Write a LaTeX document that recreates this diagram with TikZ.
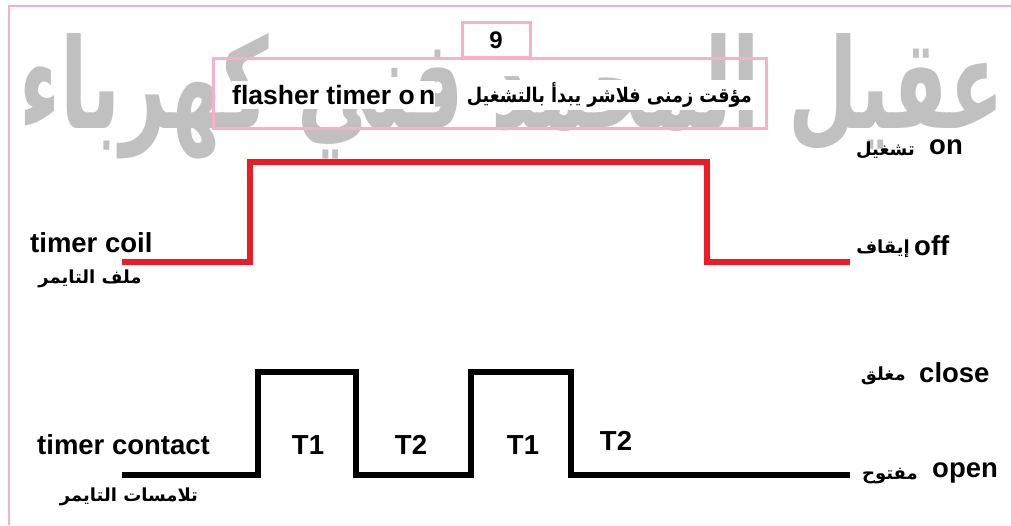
\documentclass[tikz,border=0pt]{standalone}
\usepackage{fontspec}
\setmainfont{Liberation Sans}
\newfontfamily\ar[Script=Arabic]{DejaVu Sans}
\TeXXeTstate=1
\begin{document}
\begin{tikzpicture}[x=1pt,y=-1pt,
  lbl/.style={font=\fontsize{27.5}{29}\selectfont\bfseries, inner sep=0pt},
  arl/.style={font=\ar\fontsize{18}{20}\selectfont\bfseries, inner sep=0pt},
  pinkbox/.style={draw=pinkc, line width=3pt},
  redw/.style={draw=redc, line width=6pt},
  blkw/.style={draw=black, line width=6pt}]
\definecolor{pinkc}{RGB}{248,176,200}
\definecolor{redc}{RGB}{237,28,36}
\definecolor{wmk}{RGB}{192,192,192}
\useasboundingbox (0,0) rectangle (1011,525);
\fill[white] (0,0) rectangle (1011,525);
% outer border
\draw[pinkc, line width=1.5pt] (9,525) -- (9,6) -- (1011,6);
% watermark
\node[inner sep=0pt, text=wmk, anchor=base] (wm) at (512,128) {\resizebox{985pt}{95pt}{\ar\bfseries\beginR عقيل المحمد فني كهرباء\endR}};
% number box & title box
\node[pinkbox, fill=white, minimum width=68pt, minimum height=35pt, inner sep=0pt, font=\fontsize{24}{26}\selectfont\bfseries] (num) at (496,40) {9};
\draw[pinkbox] (213,58) rectangle (766,128);
\node[lbl, fill=white, inner ysep=4pt, anchor=west, font=\fontsize{26.5}{28}\selectfont\bfseries] (t1) at (232,95) {flasher timer o\,n};
\node[fill=white, inner sep=3pt, anchor=east] (t2) at (755,95) {\resizebox{285pt}{20pt}{\ar\bfseries\beginR مؤقت زمنى فلاشر يبدأ بالتشغيل\endR}};
% red waveform
\coordinate (r0) at (122,262);
\coordinate (r1) at (250,262);
\coordinate (r2) at (250,162);
\coordinate (r3) at (707,162);
\coordinate (r4) at (707,262);
\coordinate (r5) at (850,262);
\draw[redw] (r0) -- (r1) -- (r2) -- (r3) -- (r4) -- (r5);
% black waveform
\coordinate (b0) at (122,475);
\coordinate (b1) at (258,475);
\coordinate (b2) at (258,372);
\coordinate (b3) at (356,372);
\coordinate (b4) at (356,475);
\coordinate (b5) at (471,475);
\coordinate (b6) at (471,372);
\coordinate (b7) at (571,372);
\coordinate (b8) at (571,475);
\coordinate (b9) at (850,475);
\draw[blkw] (b0) -- (b1) -- (b2) -- (b3) -- (b4) -- (b5) -- (b6) -- (b7) -- (b8) -- (b9);
% left labels
\node[lbl, anchor=west] (coil) at (30,243) {timer coil};
\node[arl] (coilar) at (90,279) {\beginR ملف التايمر\endR};
\node[lbl, anchor=west] (cont) at (37,445) {timer contact};
\node[arl] (contar) at (129,497) {\beginR تلامسات التايمر\endR};
% T labels
\node[lbl] (ta) at (308,445) {T1};
\node[lbl] (tb) at (411,445) {T2};
\node[lbl] (tc) at (523,445) {T1};
\node[lbl] (td) at (616,441) {T2};
% right labels
\node[lbl, anchor=west] (on) at (929,147) {on};
\node[arl, anchor=east] (onar) at (915,150) {\beginR تشغيل\endR};
\node[lbl, anchor=west] (off) at (914,246) {off};
\node[arl, anchor=east] (offar) at (910,249) {\beginR إيقاف\endR};
\node[lbl, anchor=west] (close) at (919,373) {close};
\node[arl, anchor=east] (closear) at (906,376) {\beginR مغلق\endR};
\node[lbl, anchor=west] (open) at (932,473) {open};
\node[arl, anchor=east] (openar) at (918,476) {\beginR مفتوح\endR};
\end{tikzpicture}
\end{document}
